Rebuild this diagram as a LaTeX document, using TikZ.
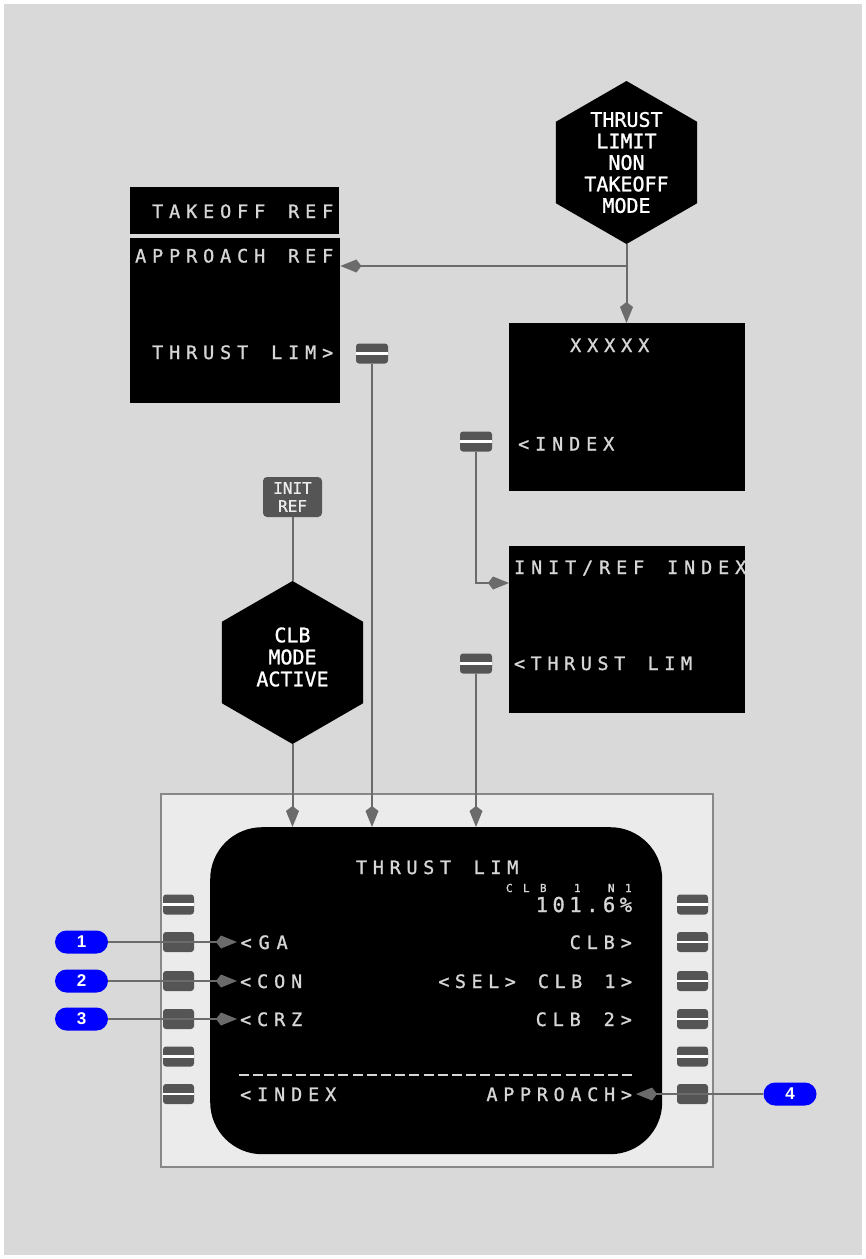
\documentclass[tikz,border=0pt]{standalone}
\usepackage{fontspec}
\usetikzlibrary{arrows.meta,shapes.geometric}
\newfontfamily\mono[AutoFakeBold=1.2]{DejaVu Sans Mono}
\newfontfamily\callfont{Liberation Sans}
\definecolor{bg}{HTML}{D9D9D9}
\definecolor{bezel}{HTML}{EBEBEB}
\definecolor{bezelline}{HTML}{888888}
\definecolor{keygray}{HTML}{555555}
\definecolor{conn}{HTML}{6B6B6B}
\definecolor{fmctext}{HTML}{D6D6D6}
\definecolor{callblue}{HTML}{0000FF}
\ExplSyntaxOn
\dim_new:N \l_rsk_pitch_dim
\NewDocumentCommand\fmcs{O{17pt}m}{
  \dim_set:Nn \l_rsk_pitch_dim {#1}
  \str_map_inline:nn {#2} { \makebox[\l_rsk_pitch_dim][c]{##1} }
}
\ExplSyntaxOff
\tikzset{
  fmc/.style={font=\mono\bfseries\fontsize{18.5}{20}\selectfont, text=fmctext, inner sep=0pt},
  blackbox/.style={fill=black, draw=none, inner sep=0pt, anchor=north west},
  hexa/.style={regular polygon, regular polygon sides=6, regular polygon rotate=30,
    minimum size=163pt, inner sep=0pt, fill=black},
  hextext/.style={font=\mono\bfseries\fontsize{20}{21.5}\selectfont, text=white, align=center, inner sep=0pt},
  keybtn/.style={rectangle, rounded corners=3pt, fill=keygray, minimum width=31pt,
    minimum height=20pt, inner sep=0pt,
    path picture={\draw[white, line width=2.5pt] (path picture bounding box.west) -- (path picture bounding box.east);}},
  connarrow/.style={draw=conn, line width=2pt, -{Kite[length=21pt,width=13pt,inset=5pt]}},
  connline/.style={draw=conn, line width=2pt},
  callout/.style={rectangle, rounded corners=11.5pt, fill=callblue, minimum width=53pt,
    minimum height=23pt, inner sep=0pt, text=white, font=\callfont\bfseries\fontsize{17}{17}\selectfont},
}
\begin{document}
\begin{tikzpicture}[x=1pt,y=-1pt]
\useasboundingbox (0,0) rectangle (866,1259);
\fill[white] (0,0) rectangle (866,1259);
\fill[bg] (4,4) rectangle (862,1255);

% bezel and screen
\node[fill=bezel, draw=bezelline, line width=2pt, minimum width=552pt, minimum height=373pt,
  inner sep=0pt, anchor=north west] (bezelbox) at (160,793) {};
\node[fill=black, rounded corners=52pt, minimum width=452pt, minimum height=327pt,
  inner sep=0pt, anchor=north west] (screen) at (210,827) {};

% page boxes
\node[blackbox, minimum width=209pt, minimum height=47pt] (tobox) at (130,187) {};
\node[blackbox, minimum width=210pt, minimum height=165pt] (apbox) at (130,238) {};
\node[blackbox, minimum width=236pt, minimum height=168pt] (xbox) at (509,323) {};
\node[blackbox, minimum width=236pt, minimum height=167pt] (irbox) at (509,546) {};

\node[fmc, anchor=base west] (ttoref) at (149,218) {\fmcs{TAKEOFF REF}};
\node[fmc, anchor=base west] (tapref) at (132,262.5) {\fmcs{APPROACH REF}};
\node[fmc, anchor=base west] (tthrl) at (149,359) {\fmcs{THRUST LIM>}};
\node[fmc, anchor=base west] (txxx) at (567,352) {\fmcs{XXXXX}};
\node[fmc, anchor=base west] (tidx) at (515,450.5) {\fmcs{<INDEX}};
\node[fmc, anchor=base west] (tirix) at (511,574) {\fmcs{INIT/REF INDEX}};
\node[fmc, anchor=base west] (tirthr) at (511,670) {\fmcs[16.7pt]{<THRUST LIM}};

% hexagons
\node[hexa] (hexA) at (626.5,162.5) {};
\node[hextext] (hexAt) at (626.5,162.5) {THRUST\\LIMIT\\NON\\TAKEOFF\\MODE};
\node[hexa] (hexB) at (292.5,662.5) {};
\node[hextext, font=\mono\bfseries\fontsize{20}{22}\selectfont] (hexBt) at (292.5,657) {CLB\\MODE\\ACTIVE};

% INIT REF key
\node[rectangle, rounded corners=4pt, fill=keygray, minimum width=59pt, minimum height=40pt,
  inner sep=0pt, text=white!92!black, align=center, font=\mono\bfseries\fontsize{16}{18}\selectfont] (initref) at (292.5,497) {INIT\\REF};

% line select keys
\node[keybtn, minimum width=32pt] (kA) at (372,353.5) {};
\node[keybtn, minimum width=32pt] (kB) at (476,441.5) {};
\node[keybtn, minimum width=32pt] (kC) at (476,663.5) {};

\node[keybtn] (L1) at (178.5,904.5) {};
\node[keybtn] (L2) at (178.5,942) {};
\node[keybtn] (L3) at (178.5,981) {};
\node[keybtn] (L4) at (178.5,1019) {};
\node[keybtn] (L5) at (178.5,1056.5) {};
\node[keybtn] (L6) at (178.5,1094) {};
\node[keybtn] (R1) at (692.5,904.5) {};
\node[keybtn] (R2) at (692.5,942) {};
\node[keybtn] (R3) at (692.5,981) {};
\node[keybtn] (R4) at (692.5,1019) {};
\node[keybtn] (R5) at (692.5,1056.5) {};
\node[keybtn] (R6) at (692.5,1094) {};

% screen texts
\node[fmc, anchor=base west] (sthr) at (353,874) {\fmcs[16.8pt]{THRUST LIM}};
\node[fmc, anchor=base east, font=\mono\bfseries\fontsize{11}{12}\selectfont] (sclbn) at (637,892) {\fmcs{CLB 1 N1}};
\node[fmc, anchor=base east, font=\mono\bfseries\fontsize{20.5}{22}\selectfont] (sval) at (634.5,912) {\fmcs[16.8pt]{101.6}\makebox[16.8pt][c]{\%}};
\node[fmc, anchor=base west] (sga) at (237,949) {\fmcs[18pt]{<GA}};
\node[fmc, anchor=base east] (sclb) at (635,949) {\fmcs{CLB>}};
\node[fmc, anchor=base west] (scon) at (237,988) {\fmcs{<CON}};
\node[fmc, anchor=base east] (ssel) at (635,988) {\fmcs[16.6pt]{<SEL> CLB 1>}};
\node[fmc, anchor=base west] (scrz) at (237,1026) {\fmcs{<CRZ}};
\node[fmc, anchor=base east] (sclb2) at (635,1026) {\fmcs{CLB 2>}};
\coordinate (dashA) at (239,1075);
\coordinate (dashB) at (633,1075);
\draw[fmctext, line width=2pt, dash pattern=on 10pt off 4.2pt] (dashA) -- (dashB);
\node[fmc, anchor=base west] (sidx) at (237,1101) {\fmcs{<INDEX}};
\node[fmc, anchor=base east] (sapp) at (635,1101) {\fmcs[16.8pt]{APPROACH>}};

% connectors
\coordinate (br) at (626.5,266);
\draw[connarrow] (hexA.south) -- (hexA.south |- xbox.north);
\draw[connarrow] (br) -- (br -| apbox.east);
\draw[connline] (initref.south) -- (hexB.north);
\draw[connarrow] (hexB.south) -- (hexB.south |- screen.north);
\draw[connarrow] (kA.south) -- (kA.south |- screen.north);
\coordinate (bend) at (476,583);
\draw[connarrow] (kB.south) -- (bend) -- (bend -| irbox.west);
\draw[connarrow] (kC.south) -- (kC.south |- screen.north);

% callouts
\node[callout] (c1) at (81.5,942) {1};
\node[callout] (c2) at (81.5,981) {2};
\node[callout] (c3) at (81.5,1019) {3};
\node[callout] (c4) at (790,1094) {4};
\coordinate (a1) at (237,942);
\coordinate (a2) at (237,981);
\coordinate (a3) at (237,1019);
\coordinate (a4) at (636,1094);
\draw[connarrow] (c1.east) -- (a1);
\draw[connarrow] (c2.east) -- (a2);
\draw[connarrow] (c3.east) -- (a3);
\draw[connarrow] (c4.west) -- (a4);
\end{tikzpicture}
\end{document}
